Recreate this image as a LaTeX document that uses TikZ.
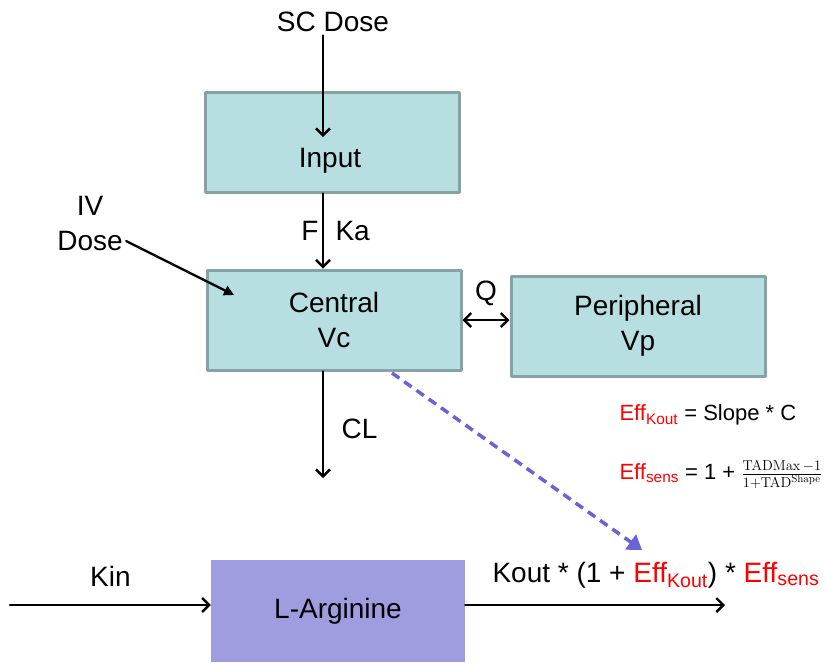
\documentclass[tikz,border=0pt]{standalone}
\usepackage[no-math]{fontspec}
\setmainfont{Liberation Sans}
\usetikzlibrary{arrows.meta}
\definecolor{boxfill}{RGB}{183,223,226}
\definecolor{boxline}{RGB}{133,163,166}
\definecolor{argfill}{RGB}{159,157,224}
\definecolor{dashblue}{RGB}{104,100,214}
\newcommand{\effsub}[1]{\textcolor{red}{Eff\textsubscript{#1}}}

\begin{document}
\begin{tikzpicture}[
	x=1pt, y=-1pt,
	line cap=round,
	line join=round,
	>={Straight Barb[length=7pt,width=14pt]},
	every node/.style={align=center, font=\fontsize{28}{35}\selectfont},
	compartment/.style={
		shape=rectangle,
		minimum width=254pt,
		minimum height=100pt,
		line width=3pt,
		draw=boxline,
		fill=boxfill
	},
	flow/.style={line width=2.4pt, ->},
	formula/.style={anchor=west, font=\fontsize{22}{26}\selectfont}
	]
	\useasboundingbox (0,0) rectangle (827,662);
	% compartments
	\node (scdose) at (333,22) {SC Dose};
	\node [compartment] (input) at (332,142) {};
	\node (inputtext) at (330,161) {Input};
	\node [compartment] (central) at (334,320) {Central\\Vc};
	\node [compartment] (peripheral) at (638,326) {Peripheral\\Vp};
	\node (ivdose) at (90,223) {IV\\Dose};
	\node [minimum width=254pt, minimum height=102pt, fill=argfill] (arginine) at (338,611) {L-Arginine};
	% free ends
	\coordinate (scend) at (323,137);
	\coordinate (ivend) at (234,295);
	\coordinate (clend) at (323,478);
	\coordinate (kinstart) at (10,605);
	\coordinate (outend) at (725,605);
	\coordinate (dashstart) at (392,373);
	\coordinate (dashend) at (642,550);
	% flows
	\draw [flow] (scdose.south -| scend) -- (scend);
	\draw [flow] (input.south -| scend) -- (central.north -| scend)
	node [midway, left] (f) {F}
	node [midway, right, xshift=8pt] (ka) {Ka};
	\draw [flow, -{Triangle[length=10pt,width=10pt]}] (ivdose) -- (ivend);
	\draw [flow, <->] (central.east) -- (central.east -| peripheral.west)
	node [midway, above=10pt] (q) {Q};
	\draw [flow] (central.south -| scend) -- (clend)
	node [midway, right, xshift=14pt, yshift=-4pt] (cl) {CL};
	\draw [flow] (kinstart) -- (kinstart -| arginine.west)
	node [midway, above=14pt] (kin) {Kin};
	\draw [flow] (arginine.east |- kinstart) -- (outend);
	\draw [dashblue, line width=3.5pt, line cap=butt, dash pattern=on 9pt off 6pt,
	-{Triangle[length=14pt,width=18pt,sep=0pt]}] (dashstart) -- (dashend);
	% rates
	\node [anchor=west] (rate) at (489,575) {Kout * (1 + \effsub{Kout}) * \effsub{sens}};
	\node [formula] (effkout) at (616,415) {\effsub{Kout} = Slope * C};
	\node [formula] (effsens) at (616,475) {\effsub{sens} = 1 + $\frac{\mathrm{TADMax}\,-1}{1{+}\mathrm{TAD}^{\mathrm{Shape}}}$};
\end{tikzpicture}
\end{document}
